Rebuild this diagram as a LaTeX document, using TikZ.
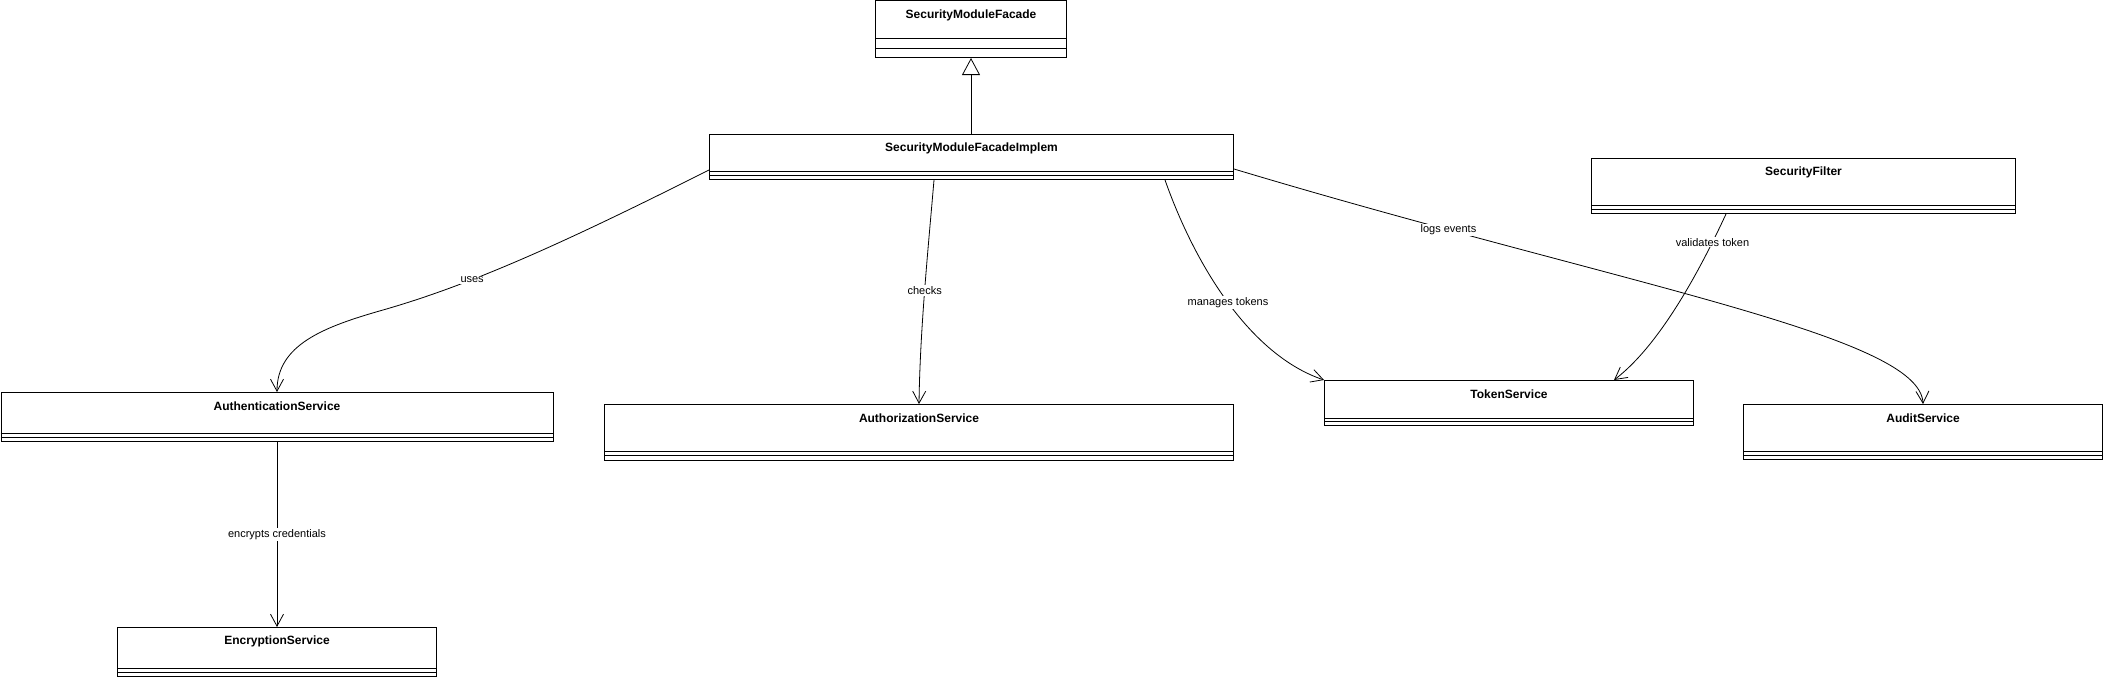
\documentclass[tikz,border=0pt]{standalone}
\usepackage{fontspec}
\setmainfont{Liberation Sans}
\usetikzlibrary{arrows.meta,calc}

\begin{document}
\begin{tikzpicture}[x=1pt,y=-1pt,
    umlclass/.style={draw,line width=1pt,anchor=north west,inner sep=0pt},
    classname/.style={font=\bfseries\fontsize{12}{14}\selectfont,anchor=center,inner sep=0pt},
    assoc/.style={line width=0.8pt,-{Straight Barb[length=12pt,width=13pt]}},
    lbl/.style={fill=white,inner sep=1pt,font=\fontsize{11}{13}\selectfont}]
    \useasboundingbox (0,0) rectangle (2103,677);
    % SecurityModuleFacade
    \node[umlclass,minimum width=191pt,minimum height=56.5pt,
      label={[classname,yshift=-15pt]north:SecurityModuleFacade}] (facade) at (875,0.5) {};
    \draw ($(facade.north west)+(0,38)$) -- ($(facade.north east)+(0,38)$);
    \draw ($(facade.north west)+(0,48)$) -- ($(facade.north east)+(0,48)$);
    % SecurityModuleFacadeImplem
    \node[umlclass,minimum width=524pt,minimum height=45pt,
      label={[classname,yshift=-14.5pt]north:SecurityModuleFacadeImplem}] (impl) at (709,134) {};
    \draw ($(impl.north west)+(0,37)$) -- ($(impl.north east)+(0,37)$);
    \draw ($(impl.north west)+(0,41)$) -- ($(impl.north east)+(0,41)$);
    % SecurityFilter
    \node[umlclass,minimum width=424pt,minimum height=55pt,
      label={[classname,yshift=-14.5pt]north:SecurityFilter}] (filter) at (1591,158) {};
    \draw ($(filter.north west)+(0,47)$) -- ($(filter.north east)+(0,47)$);
    \draw ($(filter.north west)+(0,51)$) -- ($(filter.north east)+(0,51)$);
    % AuthenticationService
    \node[umlclass,minimum width=552pt,minimum height=49pt,
      label={[classname,yshift=-14.5pt]north:AuthenticationService}] (auth) at (0.5,392) {};
    \draw ($(auth.north west)+(0,41)$) -- ($(auth.north east)+(0,41)$);
    \draw ($(auth.north west)+(0,45)$) -- ($(auth.north east)+(0,45)$);
    % EncryptionService
    \node[umlclass,minimum width=319pt,minimum height=49pt,
      label={[classname,yshift=-14.5pt]north:EncryptionService}] (enc) at (117,627) {};
    \draw ($(enc.north west)+(0,41)$) -- ($(enc.north east)+(0,41)$);
    \draw ($(enc.north west)+(0,45)$) -- ($(enc.north east)+(0,45)$);
    % AuthorizationService
    \node[umlclass,minimum width=629pt,minimum height=56pt,
      label={[classname,yshift=-14.5pt]north:AuthorizationService}] (authz) at (604,404) {};
    \draw ($(authz.north west)+(0,47)$) -- ($(authz.north east)+(0,47)$);
    \draw ($(authz.north west)+(0,51)$) -- ($(authz.north east)+(0,51)$);
    % TokenService
    \node[umlclass,minimum width=369pt,minimum height=45pt,
      label={[classname,yshift=-14.5pt]north:TokenService}] (token) at (1324,380) {};
    \draw ($(token.north west)+(0,38)$) -- ($(token.north east)+(0,38)$);
    \draw ($(token.north west)+(0,41)$) -- ($(token.north east)+(0,41)$);
    % AuditService
    \node[umlclass,minimum width=359pt,minimum height=55pt,
      label={[classname,yshift=-14.5pt]north:AuditService}] (audit) at (1743,404) {};
    \draw ($(audit.north west)+(0,47)$) -- ($(audit.north east)+(0,47)$);
    \draw ($(audit.north west)+(0,51)$) -- ($(audit.north east)+(0,51)$);
    % realization of the facade
    \draw[line width=0.8pt,-{Triangle[open,length=17pt,width=18pt]}] (impl.north -| facade.south) -- (facade.south);
    % uses
    \draw[assoc] ($(impl.north west)+(0,36)$) .. controls (560,245) and (470,285) .. (383,310)
      node[lbl,pos=0.67] (uses) {uses}
      .. controls (323,327) and (277,345) .. (auth.north);
    % checks
    \draw[assoc] ($(impl.south west)+(225,0)$) .. controls (928,250) and (920,330) .. (authz.north)
      node[lbl,pos=0.5] (checks) {checks};
    % manages tokens
    \draw[assoc] ($(impl.south west)+(456,0)$) .. controls (1195,265) and (1250,355) .. (token.north west)
      node[lbl,pos=0.5] (manages) {manages tokens};
    % logs events
    \draw[assoc] ($(impl.north east)+(0,35)$) .. controls (1620,285) and (1920,335) .. (audit.north)
      node[lbl,pos=0.195] (logs) {logs events};
    % validates token
    \draw[assoc] ($(filter.south west)+(135,0)$) .. controls (1700,270) and (1660,345) .. ($(token.north west)+(290,0)$)
      node[lbl,pos=0.16] (validates) {validates token};
    % encrypts credentials
    \draw[assoc] (auth.south) -- (enc.north) node[lbl,pos=0.5] (encrypts) {encrypts credentials};
\end{tikzpicture}
\end{document}
